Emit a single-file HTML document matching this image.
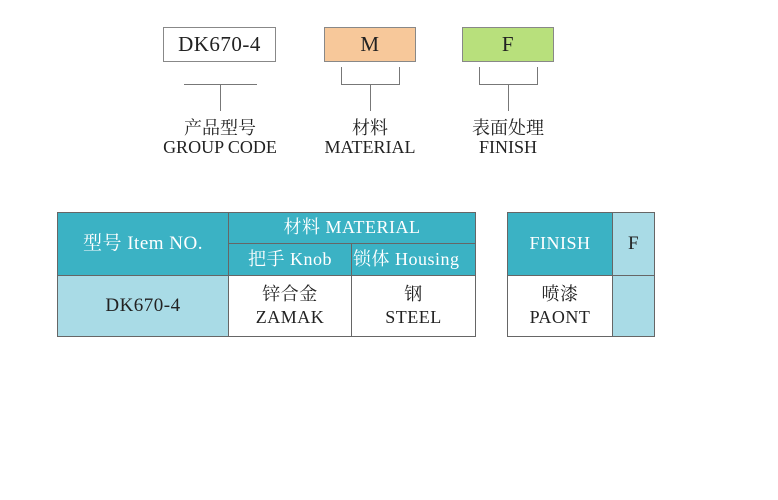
<!DOCTYPE html><html><head><meta charset="utf-8"><style>
body{margin:0;width:778px;height:500px;background:#fff;position:relative;font-family:"Liberation Serif","Noto Serif CJK SC",serif;color:#222}
div{position:absolute;box-sizing:border-box}
.t{text-align:center;white-space:nowrap}
.l{background:#777}
.c{border:1px solid #666;display:flex;align-items:center;justify-content:center;flex-direction:column;line-height:1.3;text-align:center;letter-spacing:0.5px}
.h{background:#3bb2c4;color:#fff}
.lb{background:#a9dbe6}
</style></head><body>
<div class="c" style="left:163px;top:27px;width:113px;height:35px;font-size:21px;border-color:#888">DK670-4</div>
<div class="c" style="left:324px;top:27px;width:92px;height:35px;font-size:21px;background:#f7c89a;border-color:#888">M</div>
<div class="c" style="left:462px;top:27px;width:92px;height:35px;font-size:21px;background:#b8e07c;border-color:#888">F</div>
<div class="l" style="left:184px;top:84px;width:73px;height:1px"></div>
<div class="l" style="left:220px;top:84px;width:1px;height:27px"></div>
<div class="l" style="left:341px;top:67px;width:1px;height:18px"></div>
<div class="l" style="left:399px;top:67px;width:1px;height:18px"></div>
<div class="l" style="left:341px;top:84px;width:59px;height:1px"></div>
<div class="l" style="left:370px;top:84px;width:1px;height:27px"></div>
<div class="l" style="left:479px;top:67px;width:1px;height:18px"></div>
<div class="l" style="left:537px;top:67px;width:1px;height:18px"></div>
<div class="l" style="left:479px;top:84px;width:59px;height:1px"></div>
<div class="l" style="left:508px;top:84px;width:1px;height:27px"></div>
<div class="t" style="left:150px;width:140px;top:114px;font-size:18px">产品型号</div>
<div class="t" style="left:150px;width:140px;top:137px;font-size:18px">GROUP CODE</div>
<div class="t" style="left:300px;width:140px;top:114px;font-size:18px">材料</div>
<div class="t" style="left:300px;width:140px;top:137px;font-size:18px">MATERIAL</div>
<div class="t" style="left:438px;width:140px;top:114px;font-size:18px">表面处理</div>
<div class="t" style="left:438px;width:140px;top:137px;font-size:18px">FINISH</div>

<div class="c h" style="left:57px;top:212px;width:172px;height:64px;font-size:19px">型号 Item NO.</div>
<div class="c h" style="left:228px;top:212px;width:248px;height:32px;font-size:18px">材料 MATERIAL</div>
<div class="c h" style="left:228px;top:243px;width:124px;height:33px;font-size:18px">把手 Knob</div>
<div class="c h" style="left:351px;top:243px;width:125px;height:33px;font-size:18px;overflow:hidden;align-items:flex-start;padding-left:1px">锁体 Housing</div>
<div class="c lb" style="left:57px;top:275px;width:172px;height:62px;font-size:19px">DK670-4</div>
<div class="c" style="left:228px;top:275px;width:124px;height:62px;font-size:18px">锌合金<br>ZAMAK</div>
<div class="c" style="left:351px;top:275px;width:125px;height:62px;font-size:18px">钢<br>STEEL</div>
<div class="c h" style="left:507px;top:212px;width:106px;height:64px;font-size:18px">FINISH</div>
<div class="c lb" style="left:612px;top:212px;width:43px;height:64px;font-size:19px">F</div>
<div class="c" style="left:507px;top:275px;width:106px;height:62px;font-size:18px">喷漆<br>PAONT</div>
<div class="c lb" style="left:612px;top:275px;width:43px;height:62px"></div>
</body></html>
